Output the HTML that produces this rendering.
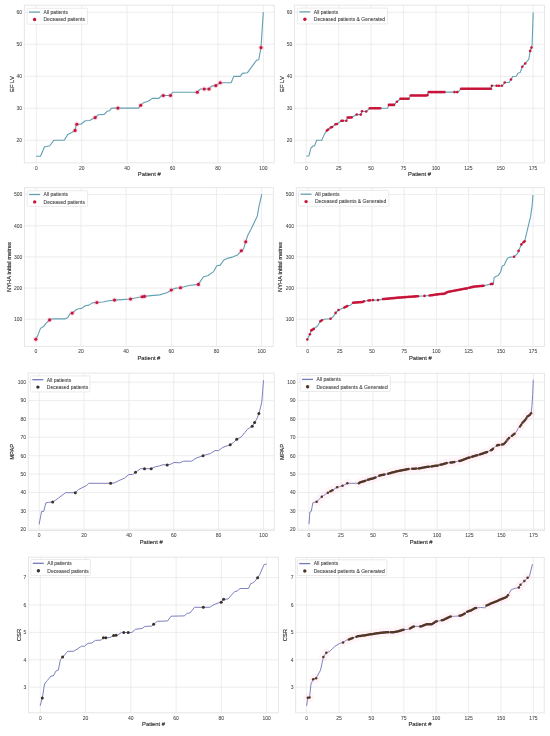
<!DOCTYPE html>
<html><head><meta charset="utf-8"><style>
html,body{margin:0;padding:0;background:#fff;}
body{width:550px;height:736px;overflow:hidden;}
svg{display:block;filter:blur(0.5px);}
text{font-family:"Liberation Sans", sans-serif;fill:#3a3a3a;stroke:#3a3a3a;stroke-width:0.16px;}
.g{stroke:#e8e8e8;stroke-width:0.8;}
.f{fill:none;stroke:#e4e4e4;stroke-width:0.9;}
.tx{font-size:5px;text-anchor:middle;fill:#474747;stroke:#474747;stroke-width:0.06px;}
.ty{font-size:5px;text-anchor:end;fill:#474747;stroke:#474747;stroke-width:0.06px;}
.xl{font-size:5.8px;text-anchor:middle;fill:#2e2e2e;stroke:#2e2e2e;stroke-width:0.14px;}
.yl{font-size:5.8px;text-anchor:middle;fill:#2e2e2e;stroke:#2e2e2e;stroke-width:0.18px;}
.lt{font-size:5px;fill:#444;stroke:#444;stroke-width:0.08px;}
.lg{fill:#fff;fill-opacity:0.85;stroke:#e2e2e2;stroke-width:0.7;}
.halo{fill:#ffc4d6;fill-opacity:0.08;}
</style></head><body>
<svg width="550" height="736" viewBox="0 0 550 736">
<rect width="550" height="736" fill="#fff"/>
<line x1="36.3" y1="5.2" x2="36.3" y2="162.9" class="g"/>
<line x1="81.72" y1="5.2" x2="81.72" y2="162.9" class="g"/>
<line x1="127.14" y1="5.2" x2="127.14" y2="162.9" class="g"/>
<line x1="172.56" y1="5.2" x2="172.56" y2="162.9" class="g"/>
<line x1="217.98" y1="5.2" x2="217.98" y2="162.9" class="g"/>
<line x1="263.4" y1="5.2" x2="263.4" y2="162.9" class="g"/>
<line x1="24.3" y1="140.3" x2="274.3" y2="140.3" class="g"/>
<line x1="24.3" y1="108.3" x2="274.3" y2="108.3" class="g"/>
<line x1="24.3" y1="76.3" x2="274.3" y2="76.3" class="g"/>
<line x1="24.3" y1="44.3" x2="274.3" y2="44.3" class="g"/>
<line x1="24.3" y1="12.3" x2="274.3" y2="12.3" class="g"/>
<rect x="24.3" y="5.2" width="250" height="157.7" class="f"/>
<text x="36.3" y="169.7" class="tx">0</text>
<text x="81.72" y="169.7" class="tx">20</text>
<text x="127.14" y="169.7" class="tx">40</text>
<text x="172.56" y="169.7" class="tx">60</text>
<text x="217.98" y="169.7" class="tx">80</text>
<text x="263.4" y="169.7" class="tx">100</text>
<text x="22.1" y="142.1" class="ty">20</text>
<text x="22.1" y="110.1" class="ty">30</text>
<text x="22.1" y="78.1" class="ty">40</text>
<text x="22.1" y="46.1" class="ty">50</text>
<text x="22.1" y="14.1" class="ty">60</text>
<text x="149.3" y="176" class="xl">Patient #</text>
<text transform="translate(13.5,84.05) rotate(-90)" class="yl">EF LV</text>
<polyline points="36.1,156.2 40.5,156.2 44.5,146.7 49.6,146 54,140.2 64.2,140.2 67.8,134.4 72.2,132.2 75.1,130.4 76.5,124.2 80.9,124.2 85.3,120.8 89.6,120.5 95.2,117.6 98.4,114.7 104.2,114.4 107.3,111.2 109.5,110.7 111.6,108.1 138.5,108.1 140.7,105.2 143.6,102.7 148,101.3 152.4,98.4 158.9,98.4 161.1,95.9 163.3,95.5 170.5,95.5 172.7,92.2 196.9,92.2 200.5,89 209,89 211.5,86.1 215.8,85.6 220.2,82.7 231.1,82.7 232.6,79.3 233.7,76.4 240.2,76.4 242.4,73.4 247.3,72.8 256.5,60.3 258.7,59.8 261,47.6 263.3,12.1" fill="none" stroke="#62a0b2" stroke-width="1.1" stroke-linejoin="round"/>
<g fill="#ff6f9a" opacity="0.22">
<circle cx="75.1" cy="130.4" r="2.7"/>
<circle cx="76.8" cy="124.2" r="2.7"/>
<circle cx="95.2" cy="117.6" r="2.7"/>
<circle cx="117.9" cy="108.1" r="2.7"/>
<circle cx="140.7" cy="105.2" r="2.7"/>
<circle cx="163.3" cy="95.5" r="2.7"/>
<circle cx="170.5" cy="95.5" r="2.7"/>
<circle cx="197.3" cy="92.2" r="2.7"/>
<circle cx="204.2" cy="89" r="2.7"/>
<circle cx="209" cy="89" r="2.7"/>
<circle cx="215.8" cy="85.6" r="2.7"/>
<circle cx="220.2" cy="82.7" r="2.7"/>
<circle cx="261" cy="47.6" r="2.7"/>
</g>
<circle cx="75.1" cy="130.4" r="1.55" fill="#c8143a"/>
<circle cx="76.8" cy="124.2" r="1.55" fill="#c8143a"/>
<circle cx="95.2" cy="117.6" r="1.55" fill="#c8143a"/>
<circle cx="117.9" cy="108.1" r="1.55" fill="#c8143a"/>
<circle cx="140.7" cy="105.2" r="1.55" fill="#c8143a"/>
<circle cx="163.3" cy="95.5" r="1.55" fill="#c8143a"/>
<circle cx="170.5" cy="95.5" r="1.55" fill="#c8143a"/>
<circle cx="197.3" cy="92.2" r="1.55" fill="#c8143a"/>
<circle cx="204.2" cy="89" r="1.55" fill="#c8143a"/>
<circle cx="209" cy="89" r="1.55" fill="#c8143a"/>
<circle cx="215.8" cy="85.6" r="1.55" fill="#c8143a"/>
<circle cx="220.2" cy="82.7" r="1.55" fill="#c8143a"/>
<circle cx="261" cy="47.6" r="1.55" fill="#c8143a"/>
<rect x="27.1" y="8.3" width="60.4" height="15.9" rx="1" class="lg"/>
<line x1="29" y1="12.1" x2="40" y2="12.1" stroke="#62a0b2" stroke-width="1.3"/>
<circle cx="34.6" cy="19.5" r="1.7" fill="#c8143a"/>
<text x="43.5" y="13.9" class="lt">All patients</text>
<text x="43.5" y="21.3" class="lt">Deceased patients</text>
<line x1="306.3" y1="5.2" x2="306.3" y2="162.9" class="g"/>
<line x1="338.7" y1="5.2" x2="338.7" y2="162.9" class="g"/>
<line x1="371.1" y1="5.2" x2="371.1" y2="162.9" class="g"/>
<line x1="403.5" y1="5.2" x2="403.5" y2="162.9" class="g"/>
<line x1="435.9" y1="5.2" x2="435.9" y2="162.9" class="g"/>
<line x1="468.3" y1="5.2" x2="468.3" y2="162.9" class="g"/>
<line x1="500.7" y1="5.2" x2="500.7" y2="162.9" class="g"/>
<line x1="533.1" y1="5.2" x2="533.1" y2="162.9" class="g"/>
<line x1="294.6" y1="140.3" x2="544.5" y2="140.3" class="g"/>
<line x1="294.6" y1="108.3" x2="544.5" y2="108.3" class="g"/>
<line x1="294.6" y1="76.3" x2="544.5" y2="76.3" class="g"/>
<line x1="294.6" y1="44.3" x2="544.5" y2="44.3" class="g"/>
<line x1="294.6" y1="12.3" x2="544.5" y2="12.3" class="g"/>
<rect x="294.6" y="5.2" width="249.9" height="157.7" class="f"/>
<text x="306.3" y="169.7" class="tx">0</text>
<text x="338.7" y="169.7" class="tx">25</text>
<text x="371.1" y="169.7" class="tx">50</text>
<text x="403.5" y="169.7" class="tx">75</text>
<text x="435.9" y="169.7" class="tx">100</text>
<text x="468.3" y="169.7" class="tx">125</text>
<text x="500.7" y="169.7" class="tx">150</text>
<text x="533.1" y="169.7" class="tx">175</text>
<text x="292.4" y="142.1" class="ty">20</text>
<text x="292.4" y="110.1" class="ty">30</text>
<text x="292.4" y="78.1" class="ty">40</text>
<text x="292.4" y="46.1" class="ty">50</text>
<text x="292.4" y="14.1" class="ty">60</text>
<text x="419.55" y="176" class="xl">Patient #</text>
<text transform="translate(283.5,84.05) rotate(-90)" class="yl">EF LV</text>
<polyline points="306.5,156.2 309,155.7 310.9,148.2 313.1,146 314.5,146 316.7,140.2 321.8,140.2 324.7,133.6 326.9,130.5 328,129.7 330.8,127.5 332,127.1 335.6,124.3 337.1,123.9 341.5,120.8 346.3,120.8 347.7,117.6 351.6,117.4 356.7,114.5 360.8,114.6 361.8,111.3 366.2,111.5 369.8,108.3 387.5,108.3 388.9,104.9 394,104.9 396.9,101.7 400.5,98.8 408.5,98.8 410.7,95.5 427.5,95.5 427.9,92.1 458.2,92.1 461.1,88.7 490.9,88.7 491.6,85.8 502.5,85.8 504.7,82.5 509.1,82.5 511.3,79 512.7,76.5 516.3,76.2 517.9,73.3 520.1,72.6 522.3,66.7 525.2,63.5 528.8,59.3 530.2,50.9 531.5,47.6 532.1,45.2 533.2,12.4" fill="none" stroke="#62a0b2" stroke-width="1.1" stroke-linejoin="round"/>
<circle cx="326.9" cy="130.5" r="1.3" fill="#c8143a"/>
<circle cx="328.2" cy="129.54" r="1.3" fill="#c8143a"/>
<circle cx="330.8" cy="127.5" r="1.3" fill="#c8143a"/>
<circle cx="332.1" cy="127.02" r="1.3" fill="#c8143a"/>
<circle cx="335.6" cy="124.3" r="1.3" fill="#c8143a"/>
<circle cx="337" cy="123.93" r="1.3" fill="#c8143a"/>
<circle cx="341.5" cy="120.8" r="1.3" fill="#c8143a"/>
<circle cx="342.9" cy="120.8" r="1.3" fill="#c8143a"/>
<circle cx="346.3" cy="120.8" r="1.3" fill="#c8143a"/>
<circle cx="347.7" cy="117.6" r="1.3" fill="#c8143a"/>
<circle cx="349" cy="117.53" r="1.3" fill="#c8143a"/>
<circle cx="350.3" cy="117.47" r="1.3" fill="#c8143a"/>
<circle cx="351.6" cy="117.4" r="1.3" fill="#c8143a"/>
<circle cx="356.7" cy="114.5" r="1.3" fill="#c8143a"/>
<circle cx="360.8" cy="114.6" r="1.3" fill="#c8143a"/>
<circle cx="362" cy="111.31" r="1.3" fill="#c8143a"/>
<circle cx="366.2" cy="111.5" r="1.3" fill="#c8143a"/>
<circle cx="369.8" cy="108.3" r="1.3" fill="#c8143a"/>
<circle cx="371.1" cy="108.3" r="1.3" fill="#c8143a"/>
<circle cx="372.4" cy="108.3" r="1.3" fill="#c8143a"/>
<circle cx="373.7" cy="108.3" r="1.3" fill="#c8143a"/>
<circle cx="375" cy="108.3" r="1.3" fill="#c8143a"/>
<circle cx="376.3" cy="108.3" r="1.3" fill="#c8143a"/>
<circle cx="377.6" cy="108.3" r="1.3" fill="#c8143a"/>
<circle cx="378.9" cy="108.3" r="1.3" fill="#c8143a"/>
<circle cx="380.2" cy="108.3" r="1.3" fill="#c8143a"/>
<circle cx="388.9" cy="104.9" r="1.3" fill="#c8143a"/>
<circle cx="390.17" cy="104.9" r="1.3" fill="#c8143a"/>
<circle cx="391.45" cy="104.9" r="1.3" fill="#c8143a"/>
<circle cx="392.73" cy="104.9" r="1.3" fill="#c8143a"/>
<circle cx="394" cy="104.9" r="1.3" fill="#c8143a"/>
<circle cx="396.9" cy="101.7" r="1.3" fill="#c8143a"/>
<circle cx="400.5" cy="98.8" r="1.3" fill="#c8143a"/>
<circle cx="401.83" cy="98.8" r="1.3" fill="#c8143a"/>
<circle cx="403.17" cy="98.8" r="1.3" fill="#c8143a"/>
<circle cx="404.5" cy="98.8" r="1.3" fill="#c8143a"/>
<circle cx="405.83" cy="98.8" r="1.3" fill="#c8143a"/>
<circle cx="407.17" cy="98.8" r="1.3" fill="#c8143a"/>
<circle cx="408.5" cy="98.8" r="1.3" fill="#c8143a"/>
<circle cx="410.7" cy="95.5" r="1.3" fill="#c8143a"/>
<circle cx="412" cy="95.5" r="1.3" fill="#c8143a"/>
<circle cx="413.29" cy="95.5" r="1.3" fill="#c8143a"/>
<circle cx="414.59" cy="95.5" r="1.3" fill="#c8143a"/>
<circle cx="415.88" cy="95.5" r="1.3" fill="#c8143a"/>
<circle cx="417.18" cy="95.5" r="1.3" fill="#c8143a"/>
<circle cx="418.48" cy="95.5" r="1.3" fill="#c8143a"/>
<circle cx="419.77" cy="95.5" r="1.3" fill="#c8143a"/>
<circle cx="421.07" cy="95.5" r="1.3" fill="#c8143a"/>
<circle cx="422.37" cy="95.5" r="1.3" fill="#c8143a"/>
<circle cx="423.66" cy="95.5" r="1.3" fill="#c8143a"/>
<circle cx="424.96" cy="95.5" r="1.3" fill="#c8143a"/>
<circle cx="426.25" cy="95.5" r="1.3" fill="#c8143a"/>
<circle cx="427.55" cy="95.08" r="1.3" fill="#c8143a"/>
<circle cx="428.85" cy="92.1" r="1.3" fill="#c8143a"/>
<circle cx="430.14" cy="92.1" r="1.3" fill="#c8143a"/>
<circle cx="431.44" cy="92.1" r="1.3" fill="#c8143a"/>
<circle cx="432.73" cy="92.1" r="1.3" fill="#c8143a"/>
<circle cx="434.03" cy="92.1" r="1.3" fill="#c8143a"/>
<circle cx="435.33" cy="92.1" r="1.3" fill="#c8143a"/>
<circle cx="436.62" cy="92.1" r="1.3" fill="#c8143a"/>
<circle cx="437.92" cy="92.1" r="1.3" fill="#c8143a"/>
<circle cx="439.22" cy="92.1" r="1.3" fill="#c8143a"/>
<circle cx="440.51" cy="92.1" r="1.3" fill="#c8143a"/>
<circle cx="441.81" cy="92.1" r="1.3" fill="#c8143a"/>
<circle cx="443.1" cy="92.1" r="1.3" fill="#c8143a"/>
<circle cx="444.4" cy="92.1" r="1.3" fill="#c8143a"/>
<circle cx="454.5" cy="92.1" r="1.3" fill="#c8143a"/>
<circle cx="457.2" cy="92.1" r="1.3" fill="#c8143a"/>
<circle cx="461.1" cy="88.7" r="1.3" fill="#c8143a"/>
<circle cx="462.4" cy="88.7" r="1.3" fill="#c8143a"/>
<circle cx="463.69" cy="88.7" r="1.3" fill="#c8143a"/>
<circle cx="464.99" cy="88.7" r="1.3" fill="#c8143a"/>
<circle cx="466.28" cy="88.7" r="1.3" fill="#c8143a"/>
<circle cx="467.58" cy="88.7" r="1.3" fill="#c8143a"/>
<circle cx="468.87" cy="88.7" r="1.3" fill="#c8143a"/>
<circle cx="470.17" cy="88.7" r="1.3" fill="#c8143a"/>
<circle cx="471.47" cy="88.7" r="1.3" fill="#c8143a"/>
<circle cx="472.76" cy="88.7" r="1.3" fill="#c8143a"/>
<circle cx="474.06" cy="88.7" r="1.3" fill="#c8143a"/>
<circle cx="475.35" cy="88.7" r="1.3" fill="#c8143a"/>
<circle cx="476.65" cy="88.7" r="1.3" fill="#c8143a"/>
<circle cx="477.94" cy="88.7" r="1.3" fill="#c8143a"/>
<circle cx="479.24" cy="88.7" r="1.3" fill="#c8143a"/>
<circle cx="480.53" cy="88.7" r="1.3" fill="#c8143a"/>
<circle cx="481.83" cy="88.7" r="1.3" fill="#c8143a"/>
<circle cx="483.13" cy="88.7" r="1.3" fill="#c8143a"/>
<circle cx="484.42" cy="88.7" r="1.3" fill="#c8143a"/>
<circle cx="485.72" cy="88.7" r="1.3" fill="#c8143a"/>
<circle cx="487.01" cy="88.7" r="1.3" fill="#c8143a"/>
<circle cx="488.31" cy="88.7" r="1.3" fill="#c8143a"/>
<circle cx="489.6" cy="88.7" r="1.3" fill="#c8143a"/>
<circle cx="490.9" cy="88.7" r="1.3" fill="#c8143a"/>
<circle cx="491.9" cy="85.8" r="1.3" fill="#c8143a"/>
<circle cx="496.7" cy="85.8" r="1.3" fill="#c8143a"/>
<circle cx="498.9" cy="85.8" r="1.3" fill="#c8143a"/>
<circle cx="501.8" cy="85.8" r="1.3" fill="#c8143a"/>
<circle cx="504.7" cy="82.5" r="1.3" fill="#c8143a"/>
<circle cx="511" cy="79.48" r="1.3" fill="#c8143a"/>
<circle cx="522.3" cy="66.7" r="1.3" fill="#c8143a"/>
<circle cx="525.2" cy="63.5" r="1.3" fill="#c8143a"/>
<circle cx="530.2" cy="50.9" r="1.3" fill="#c8143a"/>
<circle cx="531.5" cy="47.6" r="1.3" fill="#c8143a"/>
<rect x="297.4" y="8.1" width="90.2" height="15.8" rx="1" class="lg"/>
<line x1="299.3" y1="11.9" x2="310.3" y2="11.9" stroke="#62a0b2" stroke-width="1.3"/>
<circle cx="304.9" cy="19.3" r="1.7" fill="#c8143a"/>
<text x="313.8" y="13.7" class="lt">All patients</text>
<text x="313.8" y="21.1" class="lt">Deceased patients &amp; Generated</text>
<line x1="35.8" y1="187.7" x2="35.8" y2="346.4" class="g"/>
<line x1="80.96" y1="187.7" x2="80.96" y2="346.4" class="g"/>
<line x1="126.12" y1="187.7" x2="126.12" y2="346.4" class="g"/>
<line x1="171.28" y1="187.7" x2="171.28" y2="346.4" class="g"/>
<line x1="216.44" y1="187.7" x2="216.44" y2="346.4" class="g"/>
<line x1="261.6" y1="187.7" x2="261.6" y2="346.4" class="g"/>
<line x1="24.5" y1="319.2" x2="273.3" y2="319.2" class="g"/>
<line x1="24.5" y1="288.05" x2="273.3" y2="288.05" class="g"/>
<line x1="24.5" y1="256.9" x2="273.3" y2="256.9" class="g"/>
<line x1="24.5" y1="225.75" x2="273.3" y2="225.75" class="g"/>
<line x1="24.5" y1="194.6" x2="273.3" y2="194.6" class="g"/>
<rect x="24.5" y="187.7" width="248.8" height="158.7" class="f"/>
<text x="35.8" y="353.2" class="tx">0</text>
<text x="80.96" y="353.2" class="tx">20</text>
<text x="126.12" y="353.2" class="tx">40</text>
<text x="171.28" y="353.2" class="tx">60</text>
<text x="216.44" y="353.2" class="tx">80</text>
<text x="261.6" y="353.2" class="tx">100</text>
<text x="22.3" y="321" class="ty">100</text>
<text x="22.3" y="289.85" class="ty">200</text>
<text x="22.3" y="258.7" class="ty">300</text>
<text x="22.3" y="227.55" class="ty">400</text>
<text x="22.3" y="196.4" class="ty">500</text>
<text x="148.9" y="359.5" class="xl">Patient #</text>
<text transform="translate(11.1,267.05) rotate(-90)" class="yl">NYHA initial metres</text>
<polyline points="35.8,339.3 38,334.9 40.5,328.4 43.8,326.2 46,323.3 49.6,319.9 51.8,318.9 64.9,318.9 67.8,317.5 70,313.8 72.2,313.1 76.5,309.5 78.7,308.7 81.6,308.4 85.3,305.8 88.9,305.1 92.5,302.9 96.9,302.5 103,302 107.3,301 114.5,300.1 121.8,299.6 130.5,299 137.8,297.5 142.2,296.7 144.4,296.4 150.9,295.6 159.6,294.9 166.9,292.7 171.3,290 175.8,288.1 180.5,287.7 188.9,285.5 198.4,284.4 200.5,281.1 203.5,276.7 207.8,275.7 213.6,271.6 216.8,265.8 220.2,265.1 223.8,260 228.2,258.1 232.5,257.1 237.6,254.9 241.3,250.8 243.5,249.1 245.6,241.8 247.7,235.5 251.4,228.6 257.3,215.9 259.1,205.9 261.8,194.1" fill="none" stroke="#62a0b2" stroke-width="1.1" stroke-linejoin="round"/>
<g fill="#ff6f9a" opacity="0.22">
<circle cx="35.8" cy="339.3" r="2.7"/>
<circle cx="49.6" cy="319.9" r="2.7"/>
<circle cx="72.2" cy="313.1" r="2.7"/>
<circle cx="96.9" cy="302.5" r="2.7"/>
<circle cx="114.5" cy="300.1" r="2.7"/>
<circle cx="130.5" cy="299" r="2.7"/>
<circle cx="142.2" cy="296.7" r="2.7"/>
<circle cx="144.4" cy="296.4" r="2.7"/>
<circle cx="171.3" cy="290" r="2.7"/>
<circle cx="180.5" cy="287.7" r="2.7"/>
<circle cx="198.4" cy="284.4" r="2.7"/>
<circle cx="241.3" cy="250.8" r="2.7"/>
<circle cx="245.7" cy="241.8" r="2.7"/>
</g>
<circle cx="35.8" cy="339.3" r="1.55" fill="#c8143a"/>
<circle cx="49.6" cy="319.9" r="1.55" fill="#c8143a"/>
<circle cx="72.2" cy="313.1" r="1.55" fill="#c8143a"/>
<circle cx="96.9" cy="302.5" r="1.55" fill="#c8143a"/>
<circle cx="114.5" cy="300.1" r="1.55" fill="#c8143a"/>
<circle cx="130.5" cy="299" r="1.55" fill="#c8143a"/>
<circle cx="142.2" cy="296.7" r="1.55" fill="#c8143a"/>
<circle cx="144.4" cy="296.4" r="1.55" fill="#c8143a"/>
<circle cx="171.3" cy="290" r="1.55" fill="#c8143a"/>
<circle cx="180.5" cy="287.7" r="1.55" fill="#c8143a"/>
<circle cx="198.4" cy="284.4" r="1.55" fill="#c8143a"/>
<circle cx="241.3" cy="250.8" r="1.55" fill="#c8143a"/>
<circle cx="245.7" cy="241.8" r="1.55" fill="#c8143a"/>
<rect x="27.2" y="190.7" width="60.4" height="15.7" rx="1" class="lg"/>
<line x1="29.1" y1="194.5" x2="40.1" y2="194.5" stroke="#62a0b2" stroke-width="1.3"/>
<circle cx="34.7" cy="201.9" r="1.7" fill="#c8143a"/>
<text x="43.6" y="196.3" class="lt">All patients</text>
<text x="43.6" y="203.7" class="lt">Deceased patients</text>
<line x1="307.6" y1="187.7" x2="307.6" y2="346.4" class="g"/>
<line x1="339.8" y1="187.7" x2="339.8" y2="346.4" class="g"/>
<line x1="372" y1="187.7" x2="372" y2="346.4" class="g"/>
<line x1="404.2" y1="187.7" x2="404.2" y2="346.4" class="g"/>
<line x1="436.4" y1="187.7" x2="436.4" y2="346.4" class="g"/>
<line x1="468.6" y1="187.7" x2="468.6" y2="346.4" class="g"/>
<line x1="500.8" y1="187.7" x2="500.8" y2="346.4" class="g"/>
<line x1="533" y1="187.7" x2="533" y2="346.4" class="g"/>
<line x1="296.3" y1="319.2" x2="544.4" y2="319.2" class="g"/>
<line x1="296.3" y1="288.05" x2="544.4" y2="288.05" class="g"/>
<line x1="296.3" y1="256.9" x2="544.4" y2="256.9" class="g"/>
<line x1="296.3" y1="225.75" x2="544.4" y2="225.75" class="g"/>
<line x1="296.3" y1="194.6" x2="544.4" y2="194.6" class="g"/>
<rect x="296.3" y="187.7" width="248.1" height="158.7" class="f"/>
<text x="307.6" y="353.2" class="tx">0</text>
<text x="339.8" y="353.2" class="tx">25</text>
<text x="372" y="353.2" class="tx">50</text>
<text x="404.2" y="353.2" class="tx">75</text>
<text x="436.4" y="353.2" class="tx">100</text>
<text x="468.6" y="353.2" class="tx">125</text>
<text x="500.8" y="353.2" class="tx">150</text>
<text x="533" y="353.2" class="tx">175</text>
<text x="294.1" y="321" class="ty">100</text>
<text x="294.1" y="289.85" class="ty">200</text>
<text x="294.1" y="258.7" class="ty">300</text>
<text x="294.1" y="227.55" class="ty">400</text>
<text x="294.1" y="196.4" class="ty">500</text>
<text x="420.35" y="359.5" class="xl">Patient #</text>
<text transform="translate(282.2,267.05) rotate(-90)" class="yl">NYHA initial metres</text>
<polyline points="307.3,339.5 309.9,334.3 311.3,330.4 313.8,328.9 317.5,326 320.4,321.2 321.8,320.2 324,319.2 330.5,318.7 333.5,316.5 335.6,312.9 338.5,310 342.2,308.5 344.4,307.5 347.3,306.1 350.9,304.9 353.1,302.7 358.2,302.3 362.5,302 364,301.3 368.4,300.5 372.7,300.1 378,300.1 383.1,299.1 399.1,297.6 418,296.2 424.5,295.9 429.6,295.5 440,294 444.4,293.8 447.3,292.1 454.5,290.6 461.8,289.2 466.9,288.4 469.1,287.7 474.9,286.5 483.6,285.8 490.9,284.1 492.4,283.9 493.4,283.6 494.1,277.8 495.9,276.4 498.1,275.6 500.6,272 502.1,266.2 504.3,265.1 505.7,261.8 507.5,258.2 510.1,257.1 514.1,256.7 517,254.2 518.6,250.9 520.6,246.2 521.4,244.4 523.5,242.2 524.5,241.6 525.4,238.2 530.6,216.4 532.1,205.9 533,195" fill="none" stroke="#62a0b2" stroke-width="1.1" stroke-linejoin="round"/>
<circle cx="307.3" cy="339.5" r="1.3" fill="#c8143a"/>
<circle cx="309.9" cy="334.3" r="1.3" fill="#c8143a"/>
<circle cx="311.3" cy="330.4" r="1.3" fill="#c8143a"/>
<circle cx="312.6" cy="329.62" r="1.3" fill="#c8143a"/>
<circle cx="313.8" cy="328.9" r="1.3" fill="#c8143a"/>
<circle cx="320.4" cy="321.2" r="1.3" fill="#c8143a"/>
<circle cx="321.8" cy="320.2" r="1.3" fill="#c8143a"/>
<circle cx="330.5" cy="318.7" r="1.3" fill="#c8143a"/>
<circle cx="335.6" cy="312.9" r="1.3" fill="#c8143a"/>
<circle cx="338.5" cy="310" r="1.3" fill="#c8143a"/>
<circle cx="344.4" cy="307.5" r="1.3" fill="#c8143a"/>
<circle cx="345.7" cy="306.87" r="1.3" fill="#c8143a"/>
<circle cx="347.3" cy="306.1" r="1.3" fill="#c8143a"/>
<circle cx="353.1" cy="302.7" r="1.3" fill="#c8143a"/>
<circle cx="354.46" cy="302.59" r="1.3" fill="#c8143a"/>
<circle cx="355.83" cy="302.49" r="1.3" fill="#c8143a"/>
<circle cx="357.19" cy="302.38" r="1.3" fill="#c8143a"/>
<circle cx="358.55" cy="302.28" r="1.3" fill="#c8143a"/>
<circle cx="359.91" cy="302.18" r="1.3" fill="#c8143a"/>
<circle cx="361.27" cy="302.09" r="1.3" fill="#c8143a"/>
<circle cx="362.64" cy="301.94" r="1.3" fill="#c8143a"/>
<circle cx="364" cy="301.3" r="1.3" fill="#c8143a"/>
<circle cx="368.4" cy="300.5" r="1.3" fill="#c8143a"/>
<circle cx="370" cy="300.35" r="1.3" fill="#c8143a"/>
<circle cx="372.9" cy="300.1" r="1.3" fill="#c8143a"/>
<circle cx="378" cy="300.1" r="1.3" fill="#c8143a"/>
<circle cx="383.1" cy="299.1" r="1.3" fill="#c8143a"/>
<circle cx="384.39" cy="298.98" r="1.3" fill="#c8143a"/>
<circle cx="385.69" cy="298.86" r="1.3" fill="#c8143a"/>
<circle cx="386.98" cy="298.74" r="1.3" fill="#c8143a"/>
<circle cx="388.27" cy="298.62" r="1.3" fill="#c8143a"/>
<circle cx="389.56" cy="298.49" r="1.3" fill="#c8143a"/>
<circle cx="390.86" cy="298.37" r="1.3" fill="#c8143a"/>
<circle cx="392.15" cy="298.25" r="1.3" fill="#c8143a"/>
<circle cx="393.44" cy="298.13" r="1.3" fill="#c8143a"/>
<circle cx="394.73" cy="298.01" r="1.3" fill="#c8143a"/>
<circle cx="396.03" cy="297.89" r="1.3" fill="#c8143a"/>
<circle cx="397.32" cy="297.77" r="1.3" fill="#c8143a"/>
<circle cx="398.61" cy="297.65" r="1.3" fill="#c8143a"/>
<circle cx="399.9" cy="297.54" r="1.3" fill="#c8143a"/>
<circle cx="401.2" cy="297.44" r="1.3" fill="#c8143a"/>
<circle cx="402.49" cy="297.35" r="1.3" fill="#c8143a"/>
<circle cx="403.78" cy="297.25" r="1.3" fill="#c8143a"/>
<circle cx="405.07" cy="297.16" r="1.3" fill="#c8143a"/>
<circle cx="406.37" cy="297.06" r="1.3" fill="#c8143a"/>
<circle cx="407.66" cy="296.97" r="1.3" fill="#c8143a"/>
<circle cx="408.95" cy="296.87" r="1.3" fill="#c8143a"/>
<circle cx="410.24" cy="296.77" r="1.3" fill="#c8143a"/>
<circle cx="411.54" cy="296.68" r="1.3" fill="#c8143a"/>
<circle cx="412.83" cy="296.58" r="1.3" fill="#c8143a"/>
<circle cx="414.12" cy="296.49" r="1.3" fill="#c8143a"/>
<circle cx="415.41" cy="296.39" r="1.3" fill="#c8143a"/>
<circle cx="416.71" cy="296.3" r="1.3" fill="#c8143a"/>
<circle cx="418" cy="296.2" r="1.3" fill="#c8143a"/>
<circle cx="424.5" cy="295.9" r="1.3" fill="#c8143a"/>
<circle cx="429.6" cy="295.5" r="1.3" fill="#c8143a"/>
<circle cx="430.89" cy="295.31" r="1.3" fill="#c8143a"/>
<circle cx="432.17" cy="295.13" r="1.3" fill="#c8143a"/>
<circle cx="433.46" cy="294.94" r="1.3" fill="#c8143a"/>
<circle cx="434.74" cy="294.76" r="1.3" fill="#c8143a"/>
<circle cx="436.03" cy="294.57" r="1.3" fill="#c8143a"/>
<circle cx="437.32" cy="294.39" r="1.3" fill="#c8143a"/>
<circle cx="438.6" cy="294.2" r="1.3" fill="#c8143a"/>
<circle cx="439.89" cy="294.02" r="1.3" fill="#c8143a"/>
<circle cx="441.18" cy="293.95" r="1.3" fill="#c8143a"/>
<circle cx="442.46" cy="293.89" r="1.3" fill="#c8143a"/>
<circle cx="443.75" cy="293.83" r="1.3" fill="#c8143a"/>
<circle cx="445.03" cy="293.43" r="1.3" fill="#c8143a"/>
<circle cx="446.32" cy="292.67" r="1.3" fill="#c8143a"/>
<circle cx="447.61" cy="292.04" r="1.3" fill="#c8143a"/>
<circle cx="448.89" cy="291.77" r="1.3" fill="#c8143a"/>
<circle cx="450.18" cy="291.5" r="1.3" fill="#c8143a"/>
<circle cx="451.47" cy="291.23" r="1.3" fill="#c8143a"/>
<circle cx="452.75" cy="290.96" r="1.3" fill="#c8143a"/>
<circle cx="454.04" cy="290.7" r="1.3" fill="#c8143a"/>
<circle cx="455.32" cy="290.44" r="1.3" fill="#c8143a"/>
<circle cx="456.61" cy="290.2" r="1.3" fill="#c8143a"/>
<circle cx="457.9" cy="289.95" r="1.3" fill="#c8143a"/>
<circle cx="459.18" cy="289.7" r="1.3" fill="#c8143a"/>
<circle cx="460.47" cy="289.46" r="1.3" fill="#c8143a"/>
<circle cx="461.76" cy="289.21" r="1.3" fill="#c8143a"/>
<circle cx="463.04" cy="289.01" r="1.3" fill="#c8143a"/>
<circle cx="464.33" cy="288.8" r="1.3" fill="#c8143a"/>
<circle cx="465.61" cy="288.6" r="1.3" fill="#c8143a"/>
<circle cx="466.9" cy="288.4" r="1.3" fill="#c8143a"/>
<circle cx="469.1" cy="287.7" r="1.3" fill="#c8143a"/>
<circle cx="470.42" cy="287.43" r="1.3" fill="#c8143a"/>
<circle cx="471.74" cy="287.15" r="1.3" fill="#c8143a"/>
<circle cx="473.05" cy="286.88" r="1.3" fill="#c8143a"/>
<circle cx="474.37" cy="286.61" r="1.3" fill="#c8143a"/>
<circle cx="475.69" cy="286.44" r="1.3" fill="#c8143a"/>
<circle cx="477.01" cy="286.33" r="1.3" fill="#c8143a"/>
<circle cx="478.33" cy="286.22" r="1.3" fill="#c8143a"/>
<circle cx="479.65" cy="286.12" r="1.3" fill="#c8143a"/>
<circle cx="480.96" cy="286.01" r="1.3" fill="#c8143a"/>
<circle cx="482.28" cy="285.91" r="1.3" fill="#c8143a"/>
<circle cx="483.6" cy="285.8" r="1.3" fill="#c8143a"/>
<circle cx="490.9" cy="284.1" r="1.3" fill="#c8143a"/>
<circle cx="492.4" cy="283.9" r="1.3" fill="#c8143a"/>
<circle cx="514.1" cy="256.7" r="1.3" fill="#c8143a"/>
<circle cx="518.6" cy="250.9" r="1.3" fill="#c8143a"/>
<circle cx="521.4" cy="244.4" r="1.3" fill="#c8143a"/>
<circle cx="523.5" cy="242.2" r="1.3" fill="#c8143a"/>
<circle cx="524.6" cy="241.22" r="1.3" fill="#c8143a"/>
<rect x="298.6" y="190.4" width="90.2" height="15.8" rx="1" class="lg"/>
<line x1="300.5" y1="194.2" x2="311.5" y2="194.2" stroke="#62a0b2" stroke-width="1.3"/>
<circle cx="306.1" cy="201.6" r="1.7" fill="#c8143a"/>
<text x="315" y="196" class="lt">All patients</text>
<text x="315" y="203.4" class="lt">Deceased patients &amp; Generated</text>
<line x1="39.2" y1="373.1" x2="39.2" y2="530.5" class="g"/>
<line x1="84.06" y1="373.1" x2="84.06" y2="530.5" class="g"/>
<line x1="128.92" y1="373.1" x2="128.92" y2="530.5" class="g"/>
<line x1="173.78" y1="373.1" x2="173.78" y2="530.5" class="g"/>
<line x1="218.64" y1="373.1" x2="218.64" y2="530.5" class="g"/>
<line x1="263.5" y1="373.1" x2="263.5" y2="530.5" class="g"/>
<line x1="28.2" y1="529.2" x2="274.2" y2="529.2" class="g"/>
<line x1="28.2" y1="510.83" x2="274.2" y2="510.83" class="g"/>
<line x1="28.2" y1="492.45" x2="274.2" y2="492.45" class="g"/>
<line x1="28.2" y1="474.08" x2="274.2" y2="474.08" class="g"/>
<line x1="28.2" y1="455.7" x2="274.2" y2="455.7" class="g"/>
<line x1="28.2" y1="437.32" x2="274.2" y2="437.32" class="g"/>
<line x1="28.2" y1="418.95" x2="274.2" y2="418.95" class="g"/>
<line x1="28.2" y1="400.57" x2="274.2" y2="400.57" class="g"/>
<line x1="28.2" y1="382.2" x2="274.2" y2="382.2" class="g"/>
<rect x="28.2" y="373.1" width="246" height="157.4" class="f"/>
<text x="39.2" y="537.3" class="tx">0</text>
<text x="84.06" y="537.3" class="tx">20</text>
<text x="128.92" y="537.3" class="tx">40</text>
<text x="173.78" y="537.3" class="tx">60</text>
<text x="218.64" y="537.3" class="tx">80</text>
<text x="263.5" y="537.3" class="tx">100</text>
<text x="26" y="531" class="ty">20</text>
<text x="26" y="512.62" class="ty">30</text>
<text x="26" y="494.25" class="ty">40</text>
<text x="26" y="475.88" class="ty">50</text>
<text x="26" y="457.5" class="ty">60</text>
<text x="26" y="439.12" class="ty">70</text>
<text x="26" y="420.75" class="ty">80</text>
<text x="26" y="402.38" class="ty">90</text>
<text x="26" y="384" class="ty">100</text>
<text x="151.2" y="543.6" class="xl">Patient #</text>
<text transform="translate(14.1,451.8) rotate(-90)" class="yl">MPAP</text>
<polyline points="39.1,524.4 40.8,515.6 41.5,511.6 43.7,511.3 45.9,502.8 48.1,502.3 52.7,502.1 58.3,498.2 65.5,492.7 75.3,492.7 78.6,489.5 83,487.3 86.6,485.5 88.8,483.3 110.7,483.3 114.4,482.9 118.7,480.7 124.5,478.1 128.9,474.5 132.5,474.5 135.5,472.3 140.5,468.7 151.2,468.7 155.1,466.9 159.5,465.9 163.1,464.7 167.2,465 171.1,464 174,462.5 179.8,462.8 183.5,461.2 191.6,461.2 196,458.2 203,455.7 206.9,454.5 210.5,453.5 214.9,450.6 218.5,450.6 222.9,447.3 227.3,445.8 230.2,444.8 233.8,442.2 236.7,439.3 241.1,437.1 244.7,432.7 247.2,429.5 249.7,427.8 252.3,426.2 254.6,422.5 257,418.5 258.9,413.6 260.7,406.7 261.9,401 262.7,390.4 263.5,380.2" fill="none" stroke="#7479ba" stroke-width="0.95" stroke-linejoin="round"/>
<circle cx="52.7" cy="502.1" r="1.5" fill="#3b3129"/>
<circle cx="75.3" cy="492.7" r="1.5" fill="#3b3129"/>
<circle cx="110.6" cy="483.3" r="1.5" fill="#3b3129"/>
<circle cx="135.5" cy="472.3" r="1.5" fill="#3b3129"/>
<circle cx="144.5" cy="468.7" r="1.5" fill="#3b3129"/>
<circle cx="151.2" cy="468.7" r="1.5" fill="#3b3129"/>
<circle cx="167.2" cy="465" r="1.5" fill="#3b3129"/>
<circle cx="203" cy="455.7" r="1.5" fill="#3b3129"/>
<circle cx="230.2" cy="444.8" r="1.5" fill="#3b3129"/>
<circle cx="236.7" cy="439.3" r="1.5" fill="#3b3129"/>
<circle cx="252.2" cy="426.2" r="1.5" fill="#3b3129"/>
<circle cx="254.6" cy="422.5" r="1.5" fill="#3b3129"/>
<circle cx="258.9" cy="413.6" r="1.5" fill="#3b3129"/>
<rect x="30.4" y="375.9" width="59.6" height="16" rx="1" class="lg"/>
<line x1="32.3" y1="379.7" x2="43.3" y2="379.7" stroke="#7479ba" stroke-width="1.3"/>
<circle cx="37.9" cy="387.1" r="1.7" fill="#3b3129"/>
<text x="46.8" y="381.5" class="lt">All patients</text>
<text x="46.8" y="388.9" class="lt">Deceased patients</text>
<line x1="308.8" y1="373.3" x2="308.8" y2="530.5" class="g"/>
<line x1="340.9" y1="373.3" x2="340.9" y2="530.5" class="g"/>
<line x1="373" y1="373.3" x2="373" y2="530.5" class="g"/>
<line x1="405.1" y1="373.3" x2="405.1" y2="530.5" class="g"/>
<line x1="437.2" y1="373.3" x2="437.2" y2="530.5" class="g"/>
<line x1="469.3" y1="373.3" x2="469.3" y2="530.5" class="g"/>
<line x1="501.4" y1="373.3" x2="501.4" y2="530.5" class="g"/>
<line x1="533.5" y1="373.3" x2="533.5" y2="530.5" class="g"/>
<line x1="297.8" y1="529.2" x2="544.5" y2="529.2" class="g"/>
<line x1="297.8" y1="510.83" x2="544.5" y2="510.83" class="g"/>
<line x1="297.8" y1="492.45" x2="544.5" y2="492.45" class="g"/>
<line x1="297.8" y1="474.08" x2="544.5" y2="474.08" class="g"/>
<line x1="297.8" y1="455.7" x2="544.5" y2="455.7" class="g"/>
<line x1="297.8" y1="437.32" x2="544.5" y2="437.32" class="g"/>
<line x1="297.8" y1="418.95" x2="544.5" y2="418.95" class="g"/>
<line x1="297.8" y1="400.57" x2="544.5" y2="400.57" class="g"/>
<line x1="297.8" y1="382.2" x2="544.5" y2="382.2" class="g"/>
<rect x="297.8" y="373.3" width="246.7" height="157.2" class="f"/>
<text x="308.8" y="537.3" class="tx">0</text>
<text x="340.9" y="537.3" class="tx">25</text>
<text x="373" y="537.3" class="tx">50</text>
<text x="405.1" y="537.3" class="tx">75</text>
<text x="437.2" y="537.3" class="tx">100</text>
<text x="469.3" y="537.3" class="tx">125</text>
<text x="501.4" y="537.3" class="tx">150</text>
<text x="533.5" y="537.3" class="tx">175</text>
<text x="295.6" y="531" class="ty">20</text>
<text x="295.6" y="512.62" class="ty">30</text>
<text x="295.6" y="494.25" class="ty">40</text>
<text x="295.6" y="475.88" class="ty">50</text>
<text x="295.6" y="457.5" class="ty">60</text>
<text x="295.6" y="439.12" class="ty">70</text>
<text x="295.6" y="420.75" class="ty">80</text>
<text x="295.6" y="402.38" class="ty">90</text>
<text x="295.6" y="384" class="ty">100</text>
<text x="421.15" y="543.6" class="xl">Patient #</text>
<text transform="translate(284.2,451.9) rotate(-90)" class="yl">MPAP</text>
<polyline points="309,524.1 309.9,512 311.3,511.3 312.8,502.8 316.7,501.8 321.8,496.7 327.9,492.7 332.3,490.2 337.1,487.3 342.5,485.8 347.3,483.3 358.9,483.3 359.6,482.5 364.7,481 368.4,479.6 374.2,478.1 380.8,475.2 388.1,473.7 396.8,471.3 408.5,469.1 413.5,468.8 418.6,468.4 426.6,466.9 433.2,466.2 437.5,465.5 443.4,464 447,463 452.9,462.3 457.3,461.3 461.6,460.5 468.9,457.6 476.2,455.5 482,453.7 486.4,452.3 492.2,449.6 495.1,446.7 498,445 503.1,444.5 505.3,442.7 508.2,438.7 513.3,434.8 516.2,432.2 518.4,427.8 520.5,426.2 522.1,423 525.8,419.3 527,416.8 529.4,415.2 531.1,413.2 531.9,406.7 532.7,394.4 533.3,379.8" fill="none" stroke="#7479ba" stroke-width="0.95" stroke-linejoin="round"/>
<g fill="#ffbfd2" opacity="0.16">
<circle cx="316.7" cy="501.8" r="4.5"/>
<circle cx="321.8" cy="496.7" r="4.5"/>
<circle cx="327.9" cy="492.7" r="4.5"/>
<circle cx="330.5" cy="491.22" r="4.5"/>
<circle cx="332.3" cy="490.2" r="4.5"/>
<circle cx="337.1" cy="487.3" r="4.5"/>
<circle cx="342.5" cy="485.8" r="4.5"/>
<circle cx="347.3" cy="483.3" r="4.5"/>
<circle cx="358.9" cy="483.3" r="4.5"/>
<circle cx="360.18" cy="482.33" r="4.5"/>
<circle cx="361.46" cy="481.95" r="4.5"/>
<circle cx="362.74" cy="481.58" r="4.5"/>
<circle cx="364.02" cy="481.2" r="4.5"/>
<circle cx="365.3" cy="480.77" r="4.5"/>
<circle cx="367.8" cy="479.83" r="4.5"/>
<circle cx="369.07" cy="479.43" r="4.5"/>
<circle cx="370.33" cy="479.1" r="4.5"/>
<circle cx="371.6" cy="478.77" r="4.5"/>
<circle cx="372.87" cy="478.44" r="4.5"/>
<circle cx="374.13" cy="478.12" r="4.5"/>
<circle cx="375.4" cy="477.57" r="4.5"/>
<circle cx="379.3" cy="475.86" r="4.5"/>
<circle cx="380.57" cy="475.3" r="4.5"/>
<circle cx="381.85" cy="474.98" r="4.5"/>
<circle cx="383.12" cy="474.72" r="4.5"/>
<circle cx="384.4" cy="474.46" r="4.5"/>
<circle cx="388.2" cy="473.67" r="4.5"/>
<circle cx="389.47" cy="473.32" r="4.5"/>
<circle cx="390.74" cy="472.97" r="4.5"/>
<circle cx="392.01" cy="472.62" r="4.5"/>
<circle cx="393.28" cy="472.27" r="4.5"/>
<circle cx="394.55" cy="471.92" r="4.5"/>
<circle cx="395.82" cy="471.57" r="4.5"/>
<circle cx="397.09" cy="471.25" r="4.5"/>
<circle cx="398.36" cy="471.01" r="4.5"/>
<circle cx="399.63" cy="470.77" r="4.5"/>
<circle cx="400.9" cy="470.53" r="4.5"/>
<circle cx="402.2" cy="470.28" r="4.5"/>
<circle cx="403.46" cy="470.05" r="4.5"/>
<circle cx="404.72" cy="469.81" r="4.5"/>
<circle cx="405.98" cy="469.57" r="4.5"/>
<circle cx="407.24" cy="469.34" r="4.5"/>
<circle cx="408.5" cy="469.1" r="4.5"/>
<circle cx="412.3" cy="468.87" r="4.5"/>
<circle cx="413.6" cy="468.79" r="4.5"/>
<circle cx="414.9" cy="468.69" r="4.5"/>
<circle cx="416.2" cy="468.59" r="4.5"/>
<circle cx="418.7" cy="468.38" r="4.5"/>
<circle cx="419.97" cy="468.14" r="4.5"/>
<circle cx="421.25" cy="467.9" r="4.5"/>
<circle cx="422.52" cy="467.66" r="4.5"/>
<circle cx="423.8" cy="467.43" r="4.5"/>
<circle cx="425.07" cy="467.19" r="4.5"/>
<circle cx="426.35" cy="466.95" r="4.5"/>
<circle cx="427.62" cy="466.79" r="4.5"/>
<circle cx="428.9" cy="466.66" r="4.5"/>
<circle cx="431.4" cy="466.39" r="4.5"/>
<circle cx="432.68" cy="466.26" r="4.5"/>
<circle cx="433.96" cy="466.08" r="4.5"/>
<circle cx="435.24" cy="465.87" r="4.5"/>
<circle cx="436.52" cy="465.66" r="4.5"/>
<circle cx="437.8" cy="465.42" r="4.5"/>
<circle cx="440.3" cy="464.79" r="4.5"/>
<circle cx="441.58" cy="464.46" r="4.5"/>
<circle cx="442.86" cy="464.14" r="4.5"/>
<circle cx="444.14" cy="463.79" r="4.5"/>
<circle cx="445.42" cy="463.44" r="4.5"/>
<circle cx="446.7" cy="463.08" r="4.5"/>
<circle cx="450.5" cy="462.58" r="4.5"/>
<circle cx="451.77" cy="462.43" r="4.5"/>
<circle cx="453.03" cy="462.27" r="4.5"/>
<circle cx="454.3" cy="461.98" r="4.5"/>
<circle cx="459.4" cy="460.91" r="4.5"/>
<circle cx="460.67" cy="460.67" r="4.5"/>
<circle cx="461.95" cy="460.36" r="4.5"/>
<circle cx="463.23" cy="459.85" r="4.5"/>
<circle cx="464.5" cy="459.35" r="4.5"/>
<circle cx="465.77" cy="458.84" r="4.5"/>
<circle cx="467.05" cy="458.33" r="4.5"/>
<circle cx="468.33" cy="457.83" r="4.5"/>
<circle cx="469.6" cy="457.4" r="4.5"/>
<circle cx="472.1" cy="456.68" r="4.5"/>
<circle cx="473.38" cy="456.31" r="4.5"/>
<circle cx="474.65" cy="455.95" r="4.5"/>
<circle cx="475.93" cy="455.58" r="4.5"/>
<circle cx="477.2" cy="455.19" r="4.5"/>
<circle cx="479.8" cy="454.38" r="4.5"/>
<circle cx="481" cy="454.01" r="4.5"/>
<circle cx="482.2" cy="453.64" r="4.5"/>
<circle cx="483.4" cy="453.25" r="4.5"/>
<circle cx="484.6" cy="452.87" r="4.5"/>
<circle cx="485.8" cy="452.49" r="4.5"/>
<circle cx="487" cy="452.02" r="4.5"/>
<circle cx="491" cy="450.16" r="4.5"/>
<circle cx="492" cy="449.69" r="4.5"/>
<circle cx="493" cy="448.8" r="4.5"/>
<circle cx="497" cy="445.59" r="4.5"/>
<circle cx="498" cy="445" r="4.5"/>
<circle cx="499" cy="444.9" r="4.5"/>
<circle cx="502" cy="444.61" r="4.5"/>
<circle cx="503.4" cy="444.25" r="4.5"/>
<circle cx="504.8" cy="443.11" r="4.5"/>
<circle cx="506.2" cy="441.46" r="4.5"/>
<circle cx="507.6" cy="439.53" r="4.5"/>
<circle cx="509" cy="438.09" r="4.5"/>
<circle cx="512" cy="435.79" r="4.5"/>
<circle cx="513.25" cy="434.84" r="4.5"/>
<circle cx="514.5" cy="433.72" r="4.5"/>
<circle cx="520" cy="426.58" r="4.5"/>
<circle cx="521.23" cy="424.73" r="4.5"/>
<circle cx="522.47" cy="422.63" r="4.5"/>
<circle cx="523.7" cy="421.4" r="4.5"/>
<circle cx="524.93" cy="420.17" r="4.5"/>
<circle cx="526.17" cy="418.54" r="4.5"/>
<circle cx="527.4" cy="416.53" r="4.5"/>
<circle cx="528.63" cy="415.71" r="4.5"/>
<circle cx="529.87" cy="414.65" r="4.5"/>
<circle cx="531.1" cy="413.2" r="4.5"/>
</g>
<circle cx="316.7" cy="501.8" r="1.25" fill="#533526"/>
<circle cx="321.8" cy="496.7" r="1.25" fill="#533526"/>
<circle cx="327.9" cy="492.7" r="1.25" fill="#533526"/>
<circle cx="330.5" cy="491.22" r="1.25" fill="#533526"/>
<circle cx="332.3" cy="490.2" r="1.25" fill="#533526"/>
<circle cx="337.1" cy="487.3" r="1.25" fill="#533526"/>
<circle cx="342.5" cy="485.8" r="1.25" fill="#533526"/>
<circle cx="347.3" cy="483.3" r="1.25" fill="#533526"/>
<circle cx="358.9" cy="483.3" r="1.25" fill="#533526"/>
<circle cx="360.18" cy="482.33" r="1.25" fill="#533526"/>
<circle cx="361.46" cy="481.95" r="1.25" fill="#533526"/>
<circle cx="362.74" cy="481.58" r="1.25" fill="#533526"/>
<circle cx="364.02" cy="481.2" r="1.25" fill="#533526"/>
<circle cx="365.3" cy="480.77" r="1.25" fill="#533526"/>
<circle cx="367.8" cy="479.83" r="1.25" fill="#533526"/>
<circle cx="369.07" cy="479.43" r="1.25" fill="#533526"/>
<circle cx="370.33" cy="479.1" r="1.25" fill="#533526"/>
<circle cx="371.6" cy="478.77" r="1.25" fill="#533526"/>
<circle cx="372.87" cy="478.44" r="1.25" fill="#533526"/>
<circle cx="374.13" cy="478.12" r="1.25" fill="#533526"/>
<circle cx="375.4" cy="477.57" r="1.25" fill="#533526"/>
<circle cx="379.3" cy="475.86" r="1.25" fill="#533526"/>
<circle cx="380.57" cy="475.3" r="1.25" fill="#533526"/>
<circle cx="381.85" cy="474.98" r="1.25" fill="#533526"/>
<circle cx="383.12" cy="474.72" r="1.25" fill="#533526"/>
<circle cx="384.4" cy="474.46" r="1.25" fill="#533526"/>
<circle cx="388.2" cy="473.67" r="1.25" fill="#533526"/>
<circle cx="389.47" cy="473.32" r="1.25" fill="#533526"/>
<circle cx="390.74" cy="472.97" r="1.25" fill="#533526"/>
<circle cx="392.01" cy="472.62" r="1.25" fill="#533526"/>
<circle cx="393.28" cy="472.27" r="1.25" fill="#533526"/>
<circle cx="394.55" cy="471.92" r="1.25" fill="#533526"/>
<circle cx="395.82" cy="471.57" r="1.25" fill="#533526"/>
<circle cx="397.09" cy="471.25" r="1.25" fill="#533526"/>
<circle cx="398.36" cy="471.01" r="1.25" fill="#533526"/>
<circle cx="399.63" cy="470.77" r="1.25" fill="#533526"/>
<circle cx="400.9" cy="470.53" r="1.25" fill="#533526"/>
<circle cx="402.2" cy="470.28" r="1.25" fill="#533526"/>
<circle cx="403.46" cy="470.05" r="1.25" fill="#533526"/>
<circle cx="404.72" cy="469.81" r="1.25" fill="#533526"/>
<circle cx="405.98" cy="469.57" r="1.25" fill="#533526"/>
<circle cx="407.24" cy="469.34" r="1.25" fill="#533526"/>
<circle cx="408.5" cy="469.1" r="1.25" fill="#533526"/>
<circle cx="412.3" cy="468.87" r="1.25" fill="#533526"/>
<circle cx="413.6" cy="468.79" r="1.25" fill="#533526"/>
<circle cx="414.9" cy="468.69" r="1.25" fill="#533526"/>
<circle cx="416.2" cy="468.59" r="1.25" fill="#533526"/>
<circle cx="418.7" cy="468.38" r="1.25" fill="#533526"/>
<circle cx="419.97" cy="468.14" r="1.25" fill="#533526"/>
<circle cx="421.25" cy="467.9" r="1.25" fill="#533526"/>
<circle cx="422.52" cy="467.66" r="1.25" fill="#533526"/>
<circle cx="423.8" cy="467.43" r="1.25" fill="#533526"/>
<circle cx="425.07" cy="467.19" r="1.25" fill="#533526"/>
<circle cx="426.35" cy="466.95" r="1.25" fill="#533526"/>
<circle cx="427.62" cy="466.79" r="1.25" fill="#533526"/>
<circle cx="428.9" cy="466.66" r="1.25" fill="#533526"/>
<circle cx="431.4" cy="466.39" r="1.25" fill="#533526"/>
<circle cx="432.68" cy="466.26" r="1.25" fill="#533526"/>
<circle cx="433.96" cy="466.08" r="1.25" fill="#533526"/>
<circle cx="435.24" cy="465.87" r="1.25" fill="#533526"/>
<circle cx="436.52" cy="465.66" r="1.25" fill="#533526"/>
<circle cx="437.8" cy="465.42" r="1.25" fill="#533526"/>
<circle cx="440.3" cy="464.79" r="1.25" fill="#533526"/>
<circle cx="441.58" cy="464.46" r="1.25" fill="#533526"/>
<circle cx="442.86" cy="464.14" r="1.25" fill="#533526"/>
<circle cx="444.14" cy="463.79" r="1.25" fill="#533526"/>
<circle cx="445.42" cy="463.44" r="1.25" fill="#533526"/>
<circle cx="446.7" cy="463.08" r="1.25" fill="#533526"/>
<circle cx="450.5" cy="462.58" r="1.25" fill="#533526"/>
<circle cx="451.77" cy="462.43" r="1.25" fill="#533526"/>
<circle cx="453.03" cy="462.27" r="1.25" fill="#533526"/>
<circle cx="454.3" cy="461.98" r="1.25" fill="#533526"/>
<circle cx="459.4" cy="460.91" r="1.25" fill="#533526"/>
<circle cx="460.67" cy="460.67" r="1.25" fill="#533526"/>
<circle cx="461.95" cy="460.36" r="1.25" fill="#533526"/>
<circle cx="463.23" cy="459.85" r="1.25" fill="#533526"/>
<circle cx="464.5" cy="459.35" r="1.25" fill="#533526"/>
<circle cx="465.77" cy="458.84" r="1.25" fill="#533526"/>
<circle cx="467.05" cy="458.33" r="1.25" fill="#533526"/>
<circle cx="468.33" cy="457.83" r="1.25" fill="#533526"/>
<circle cx="469.6" cy="457.4" r="1.25" fill="#533526"/>
<circle cx="472.1" cy="456.68" r="1.25" fill="#533526"/>
<circle cx="473.38" cy="456.31" r="1.25" fill="#533526"/>
<circle cx="474.65" cy="455.95" r="1.25" fill="#533526"/>
<circle cx="475.93" cy="455.58" r="1.25" fill="#533526"/>
<circle cx="477.2" cy="455.19" r="1.25" fill="#533526"/>
<circle cx="479.8" cy="454.38" r="1.25" fill="#533526"/>
<circle cx="481" cy="454.01" r="1.25" fill="#533526"/>
<circle cx="482.2" cy="453.64" r="1.25" fill="#533526"/>
<circle cx="483.4" cy="453.25" r="1.25" fill="#533526"/>
<circle cx="484.6" cy="452.87" r="1.25" fill="#533526"/>
<circle cx="485.8" cy="452.49" r="1.25" fill="#533526"/>
<circle cx="487" cy="452.02" r="1.25" fill="#533526"/>
<circle cx="491" cy="450.16" r="1.25" fill="#533526"/>
<circle cx="492" cy="449.69" r="1.25" fill="#533526"/>
<circle cx="493" cy="448.8" r="1.25" fill="#533526"/>
<circle cx="497" cy="445.59" r="1.25" fill="#533526"/>
<circle cx="498" cy="445" r="1.25" fill="#533526"/>
<circle cx="499" cy="444.9" r="1.25" fill="#533526"/>
<circle cx="502" cy="444.61" r="1.25" fill="#533526"/>
<circle cx="503.4" cy="444.25" r="1.25" fill="#533526"/>
<circle cx="504.8" cy="443.11" r="1.25" fill="#533526"/>
<circle cx="506.2" cy="441.46" r="1.25" fill="#533526"/>
<circle cx="507.6" cy="439.53" r="1.25" fill="#533526"/>
<circle cx="509" cy="438.09" r="1.25" fill="#533526"/>
<circle cx="512" cy="435.79" r="1.25" fill="#533526"/>
<circle cx="513.25" cy="434.84" r="1.25" fill="#533526"/>
<circle cx="514.5" cy="433.72" r="1.25" fill="#533526"/>
<circle cx="520" cy="426.58" r="1.25" fill="#533526"/>
<circle cx="521.23" cy="424.73" r="1.25" fill="#533526"/>
<circle cx="522.47" cy="422.63" r="1.25" fill="#533526"/>
<circle cx="523.7" cy="421.4" r="1.25" fill="#533526"/>
<circle cx="524.93" cy="420.17" r="1.25" fill="#533526"/>
<circle cx="526.17" cy="418.54" r="1.25" fill="#533526"/>
<circle cx="527.4" cy="416.53" r="1.25" fill="#533526"/>
<circle cx="528.63" cy="415.71" r="1.25" fill="#533526"/>
<circle cx="529.87" cy="414.65" r="1.25" fill="#533526"/>
<circle cx="531.1" cy="413.2" r="1.25" fill="#533526"/>
<rect x="300.1" y="375.6" width="90.3" height="15.9" rx="1" class="lg"/>
<line x1="302" y1="379.4" x2="313" y2="379.4" stroke="#7479ba" stroke-width="1.3"/>
<circle cx="307.6" cy="386.8" r="1.7" fill="#533526"/>
<text x="316.5" y="381.2" class="lt">All patients</text>
<text x="316.5" y="388.6" class="lt">Deceased patients &amp; Generated</text>
<line x1="40.3" y1="557.2" x2="40.3" y2="712.8" class="g"/>
<line x1="85.56" y1="557.2" x2="85.56" y2="712.8" class="g"/>
<line x1="130.82" y1="557.2" x2="130.82" y2="712.8" class="g"/>
<line x1="176.08" y1="557.2" x2="176.08" y2="712.8" class="g"/>
<line x1="221.34" y1="557.2" x2="221.34" y2="712.8" class="g"/>
<line x1="266.6" y1="557.2" x2="266.6" y2="712.8" class="g"/>
<line x1="28.5" y1="687.2" x2="278.5" y2="687.2" class="g"/>
<line x1="28.5" y1="659.8" x2="278.5" y2="659.8" class="g"/>
<line x1="28.5" y1="632.4" x2="278.5" y2="632.4" class="g"/>
<line x1="28.5" y1="605" x2="278.5" y2="605" class="g"/>
<line x1="28.5" y1="577.6" x2="278.5" y2="577.6" class="g"/>
<rect x="28.5" y="557.2" width="250" height="155.6" class="f"/>
<text x="40.3" y="719.6" class="tx">0</text>
<text x="85.56" y="719.6" class="tx">20</text>
<text x="130.82" y="719.6" class="tx">40</text>
<text x="176.08" y="719.6" class="tx">60</text>
<text x="221.34" y="719.6" class="tx">80</text>
<text x="266.6" y="719.6" class="tx">100</text>
<text x="26.3" y="689" class="ty">3</text>
<text x="26.3" y="661.6" class="ty">4</text>
<text x="26.3" y="634.2" class="ty">5</text>
<text x="26.3" y="606.8" class="ty">6</text>
<text x="26.3" y="579.4" class="ty">7</text>
<text x="153.5" y="725.9" class="xl">Patient #</text>
<text transform="translate(20.9,635) rotate(-90)" class="yl">CSR</text>
<polyline points="40.1,705.8 42.3,698.1 44.5,684 47.4,680.4 51,676 53.2,676 56.1,670.9 58.3,670.2 60.5,659.3 62.6,657.1 67.7,651.3 73.5,651.3 77.2,649.1 81.5,646.2 84.5,646.2 88.1,643.3 91.7,643 95.4,640.4 101.2,640.1 103.4,637.7 110,637.6 113.6,635.4 117.3,635.1 121.6,632.5 131.8,632.5 135.5,629.3 142,628.5 144.9,626.4 151.5,626.1 153.6,624.2 157.3,621.3 167.5,621 171.1,616.2 184.2,615.9 187.3,613.3 190.2,612.8 194.5,607.3 209.8,607.3 213.5,604.8 218.5,602.9 221.2,602.2 223.6,599.3 228,599 234.5,591.7 237.2,591 240.1,588.5 248.5,588.5 250.6,583.7 252.5,583 254.6,581.5 257.5,577.9 259.7,574.6 264.1,564.5 266.6,564.1" fill="none" stroke="#7479ba" stroke-width="0.95" stroke-linejoin="round"/>
<circle cx="42.3" cy="698.1" r="1.5" fill="#3b3129"/>
<circle cx="62.6" cy="657.1" r="1.5" fill="#3b3129"/>
<circle cx="103.4" cy="637.7" r="1.5" fill="#3b3129"/>
<circle cx="105.8" cy="637.7" r="1.5" fill="#3b3129"/>
<circle cx="113.6" cy="635.4" r="1.5" fill="#3b3129"/>
<circle cx="116" cy="635.2" r="1.5" fill="#3b3129"/>
<circle cx="123.8" cy="632.5" r="1.5" fill="#3b3129"/>
<circle cx="128.2" cy="632.5" r="1.5" fill="#3b3129"/>
<circle cx="153.6" cy="624.2" r="1.5" fill="#3b3129"/>
<circle cx="203.3" cy="607.3" r="1.5" fill="#3b3129"/>
<circle cx="221.2" cy="602.2" r="1.5" fill="#3b3129"/>
<circle cx="223.6" cy="599.3" r="1.5" fill="#3b3129"/>
<circle cx="257.6" cy="577.8" r="1.5" fill="#3b3129"/>
<rect x="30.9" y="559.5" width="59.5" height="16" rx="1" class="lg"/>
<line x1="32.8" y1="563.3" x2="43.8" y2="563.3" stroke="#7479ba" stroke-width="1.3"/>
<circle cx="38.4" cy="570.7" r="1.7" fill="#3b3129"/>
<text x="47.3" y="565.1" class="lt">All patients</text>
<text x="47.3" y="572.5" class="lt">Deceased patients</text>
<line x1="306.6" y1="557.4" x2="306.6" y2="712.9" class="g"/>
<line x1="339" y1="557.4" x2="339" y2="712.9" class="g"/>
<line x1="371.4" y1="557.4" x2="371.4" y2="712.9" class="g"/>
<line x1="403.8" y1="557.4" x2="403.8" y2="712.9" class="g"/>
<line x1="436.2" y1="557.4" x2="436.2" y2="712.9" class="g"/>
<line x1="468.6" y1="557.4" x2="468.6" y2="712.9" class="g"/>
<line x1="501" y1="557.4" x2="501" y2="712.9" class="g"/>
<line x1="533.4" y1="557.4" x2="533.4" y2="712.9" class="g"/>
<line x1="295.7" y1="687.2" x2="544.2" y2="687.2" class="g"/>
<line x1="295.7" y1="659.8" x2="544.2" y2="659.8" class="g"/>
<line x1="295.7" y1="632.4" x2="544.2" y2="632.4" class="g"/>
<line x1="295.7" y1="605" x2="544.2" y2="605" class="g"/>
<line x1="295.7" y1="577.6" x2="544.2" y2="577.6" class="g"/>
<rect x="295.7" y="557.4" width="248.5" height="155.5" class="f"/>
<text x="306.6" y="719.7" class="tx">0</text>
<text x="339" y="719.7" class="tx">25</text>
<text x="371.4" y="719.7" class="tx">50</text>
<text x="403.8" y="719.7" class="tx">75</text>
<text x="436.2" y="719.7" class="tx">100</text>
<text x="468.6" y="719.7" class="tx">125</text>
<text x="501" y="719.7" class="tx">150</text>
<text x="533.4" y="719.7" class="tx">175</text>
<text x="293.5" y="689" class="ty">3</text>
<text x="293.5" y="661.6" class="ty">4</text>
<text x="293.5" y="634.2" class="ty">5</text>
<text x="293.5" y="606.8" class="ty">6</text>
<text x="293.5" y="579.4" class="ty">7</text>
<text x="419.95" y="726" class="xl">Patient #</text>
<text transform="translate(287.2,635.15) rotate(-90)" class="yl">CSR</text>
<polyline points="306.6,705.8 307.8,697.8 309.5,697.5 311,684 313.2,679.3 316.1,678.2 320.5,670.2 323.4,657.1 326.3,652.7 329.9,651.3 335,646.2 339.4,643.6 343,642.5 345.9,640.4 349.5,639.2 353.2,637.7 357.5,636.3 364.8,635.3 370,634.4 377.3,633.3 386,632.2 393.3,632.2 397.6,631.5 403.5,629.7 408.5,629.3 412.2,627.1 413.6,626.4 420.9,626.4 426.7,624.2 431.8,624.2 436.2,621.3 440,620.9 444.4,619.5 450.2,616.5 454.5,616.3 460.4,615.8 463.3,614.4 467.6,611.5 471.3,610.4 474.9,608.1 480.7,607.5 485.1,607.8 486.5,605.6 490.9,603.5 493.8,602.3 498.2,600.5 501.1,599.1 506.2,597.3 508.4,594.7 511.3,589.6 515.6,588.2 518.9,587.6 520.5,584.7 524.4,581.1 527.6,577.8 529.3,576.7 532.5,564.2" fill="none" stroke="#7479ba" stroke-width="0.95" stroke-linejoin="round"/>
<g fill="#ffbfd2" opacity="0.16">
<circle cx="307.8" cy="697.8" r="4.5"/>
<circle cx="309.5" cy="697.5" r="4.5"/>
<circle cx="313.2" cy="679.3" r="4.5"/>
<circle cx="316.1" cy="678.2" r="4.5"/>
<circle cx="323.4" cy="657.1" r="4.5"/>
<circle cx="326.3" cy="652.7" r="4.5"/>
<circle cx="343.1" cy="642.43" r="4.5"/>
<circle cx="348.9" cy="639.4" r="4.5"/>
<circle cx="350.17" cy="638.93" r="4.5"/>
<circle cx="351.43" cy="638.42" r="4.5"/>
<circle cx="352.7" cy="637.9" r="4.5"/>
<circle cx="356.5" cy="636.63" r="4.5"/>
<circle cx="357.77" cy="636.26" r="4.5"/>
<circle cx="359.04" cy="636.09" r="4.5"/>
<circle cx="360.32" cy="635.91" r="4.5"/>
<circle cx="361.59" cy="635.74" r="4.5"/>
<circle cx="362.86" cy="635.57" r="4.5"/>
<circle cx="364.13" cy="635.39" r="4.5"/>
<circle cx="365.4" cy="635.2" r="4.5"/>
<circle cx="366.68" cy="634.98" r="4.5"/>
<circle cx="367.95" cy="634.76" r="4.5"/>
<circle cx="369.22" cy="634.53" r="4.5"/>
<circle cx="370.49" cy="634.33" r="4.5"/>
<circle cx="371.76" cy="634.13" r="4.5"/>
<circle cx="373.04" cy="633.94" r="4.5"/>
<circle cx="374.31" cy="633.75" r="4.5"/>
<circle cx="375.58" cy="633.56" r="4.5"/>
<circle cx="376.85" cy="633.37" r="4.5"/>
<circle cx="378.12" cy="633.2" r="4.5"/>
<circle cx="379.4" cy="633.03" r="4.5"/>
<circle cx="380.67" cy="632.87" r="4.5"/>
<circle cx="381.94" cy="632.71" r="4.5"/>
<circle cx="383.21" cy="632.55" r="4.5"/>
<circle cx="384.48" cy="632.39" r="4.5"/>
<circle cx="385.76" cy="632.23" r="4.5"/>
<circle cx="387.03" cy="632.2" r="4.5"/>
<circle cx="388.3" cy="632.2" r="4.5"/>
<circle cx="390.9" cy="632.2" r="4.5"/>
<circle cx="392.17" cy="632.2" r="4.5"/>
<circle cx="393.44" cy="632.18" r="4.5"/>
<circle cx="394.71" cy="631.97" r="4.5"/>
<circle cx="395.98" cy="631.76" r="4.5"/>
<circle cx="397.25" cy="631.56" r="4.5"/>
<circle cx="398.52" cy="631.22" r="4.5"/>
<circle cx="399.79" cy="630.83" r="4.5"/>
<circle cx="401.06" cy="630.44" r="4.5"/>
<circle cx="402.33" cy="630.06" r="4.5"/>
<circle cx="403.6" cy="629.69" r="4.5"/>
<circle cx="410" cy="628.41" r="4.5"/>
<circle cx="411.27" cy="627.65" r="4.5"/>
<circle cx="412.53" cy="626.93" r="4.5"/>
<circle cx="413.8" cy="626.4" r="4.5"/>
<circle cx="420.2" cy="626.4" r="4.5"/>
<circle cx="421.47" cy="626.18" r="4.5"/>
<circle cx="422.74" cy="625.7" r="4.5"/>
<circle cx="424.01" cy="625.22" r="4.5"/>
<circle cx="425.28" cy="624.74" r="4.5"/>
<circle cx="426.55" cy="624.26" r="4.5"/>
<circle cx="427.82" cy="624.2" r="4.5"/>
<circle cx="429.08" cy="624.2" r="4.5"/>
<circle cx="430.35" cy="624.2" r="4.5"/>
<circle cx="431.62" cy="624.2" r="4.5"/>
<circle cx="432.89" cy="623.48" r="4.5"/>
<circle cx="434.16" cy="622.64" r="4.5"/>
<circle cx="435.43" cy="621.81" r="4.5"/>
<circle cx="436.7" cy="621.25" r="4.5"/>
<circle cx="441.8" cy="620.33" r="4.5"/>
<circle cx="443.07" cy="619.92" r="4.5"/>
<circle cx="444.34" cy="619.52" r="4.5"/>
<circle cx="445.61" cy="618.87" r="4.5"/>
<circle cx="446.89" cy="618.21" r="4.5"/>
<circle cx="448.16" cy="617.56" r="4.5"/>
<circle cx="449.43" cy="616.9" r="4.5"/>
<circle cx="450.7" cy="616.48" r="4.5"/>
<circle cx="459.6" cy="615.87" r="4.5"/>
<circle cx="460.88" cy="615.57" r="4.5"/>
<circle cx="462.15" cy="614.96" r="4.5"/>
<circle cx="463.43" cy="614.32" r="4.5"/>
<circle cx="464.7" cy="613.46" r="4.5"/>
<circle cx="467.2" cy="611.77" r="4.5"/>
<circle cx="468.46" cy="611.25" r="4.5"/>
<circle cx="469.71" cy="610.87" r="4.5"/>
<circle cx="470.97" cy="610.5" r="4.5"/>
<circle cx="472.23" cy="609.81" r="4.5"/>
<circle cx="473.49" cy="609" r="4.5"/>
<circle cx="474.74" cy="608.2" r="4.5"/>
<circle cx="476" cy="607.99" r="4.5"/>
<circle cx="486.5" cy="605.6" r="4.5"/>
<circle cx="487.76" cy="605" r="4.5"/>
<circle cx="489.03" cy="604.39" r="4.5"/>
<circle cx="490.29" cy="603.79" r="4.5"/>
<circle cx="491.56" cy="603.23" r="4.5"/>
<circle cx="492.82" cy="602.7" r="4.5"/>
<circle cx="494.09" cy="602.18" r="4.5"/>
<circle cx="495.35" cy="601.66" r="4.5"/>
<circle cx="496.62" cy="601.15" r="4.5"/>
<circle cx="497.88" cy="600.63" r="4.5"/>
<circle cx="499.15" cy="600.04" r="4.5"/>
<circle cx="500.41" cy="599.43" r="4.5"/>
<circle cx="501.68" cy="598.9" r="4.5"/>
<circle cx="502.94" cy="598.45" r="4.5"/>
<circle cx="504.21" cy="598" r="4.5"/>
<circle cx="505.47" cy="597.56" r="4.5"/>
<circle cx="506.74" cy="596.67" r="4.5"/>
<circle cx="508" cy="595.17" r="4.5"/>
<circle cx="518.9" cy="587.6" r="4.5"/>
<circle cx="520.5" cy="584.7" r="4.5"/>
<circle cx="524.4" cy="581.1" r="4.5"/>
<circle cx="527.6" cy="577.8" r="4.5"/>
</g>
<circle cx="307.8" cy="697.8" r="1.25" fill="#533526"/>
<circle cx="309.5" cy="697.5" r="1.25" fill="#533526"/>
<circle cx="313.2" cy="679.3" r="1.25" fill="#533526"/>
<circle cx="316.1" cy="678.2" r="1.25" fill="#533526"/>
<circle cx="323.4" cy="657.1" r="1.25" fill="#533526"/>
<circle cx="326.3" cy="652.7" r="1.25" fill="#533526"/>
<circle cx="343.1" cy="642.43" r="1.25" fill="#533526"/>
<circle cx="348.9" cy="639.4" r="1.25" fill="#533526"/>
<circle cx="350.17" cy="638.93" r="1.25" fill="#533526"/>
<circle cx="351.43" cy="638.42" r="1.25" fill="#533526"/>
<circle cx="352.7" cy="637.9" r="1.25" fill="#533526"/>
<circle cx="356.5" cy="636.63" r="1.25" fill="#533526"/>
<circle cx="357.77" cy="636.26" r="1.25" fill="#533526"/>
<circle cx="359.04" cy="636.09" r="1.25" fill="#533526"/>
<circle cx="360.32" cy="635.91" r="1.25" fill="#533526"/>
<circle cx="361.59" cy="635.74" r="1.25" fill="#533526"/>
<circle cx="362.86" cy="635.57" r="1.25" fill="#533526"/>
<circle cx="364.13" cy="635.39" r="1.25" fill="#533526"/>
<circle cx="365.4" cy="635.2" r="1.25" fill="#533526"/>
<circle cx="366.68" cy="634.98" r="1.25" fill="#533526"/>
<circle cx="367.95" cy="634.76" r="1.25" fill="#533526"/>
<circle cx="369.22" cy="634.53" r="1.25" fill="#533526"/>
<circle cx="370.49" cy="634.33" r="1.25" fill="#533526"/>
<circle cx="371.76" cy="634.13" r="1.25" fill="#533526"/>
<circle cx="373.04" cy="633.94" r="1.25" fill="#533526"/>
<circle cx="374.31" cy="633.75" r="1.25" fill="#533526"/>
<circle cx="375.58" cy="633.56" r="1.25" fill="#533526"/>
<circle cx="376.85" cy="633.37" r="1.25" fill="#533526"/>
<circle cx="378.12" cy="633.2" r="1.25" fill="#533526"/>
<circle cx="379.4" cy="633.03" r="1.25" fill="#533526"/>
<circle cx="380.67" cy="632.87" r="1.25" fill="#533526"/>
<circle cx="381.94" cy="632.71" r="1.25" fill="#533526"/>
<circle cx="383.21" cy="632.55" r="1.25" fill="#533526"/>
<circle cx="384.48" cy="632.39" r="1.25" fill="#533526"/>
<circle cx="385.76" cy="632.23" r="1.25" fill="#533526"/>
<circle cx="387.03" cy="632.2" r="1.25" fill="#533526"/>
<circle cx="388.3" cy="632.2" r="1.25" fill="#533526"/>
<circle cx="390.9" cy="632.2" r="1.25" fill="#533526"/>
<circle cx="392.17" cy="632.2" r="1.25" fill="#533526"/>
<circle cx="393.44" cy="632.18" r="1.25" fill="#533526"/>
<circle cx="394.71" cy="631.97" r="1.25" fill="#533526"/>
<circle cx="395.98" cy="631.76" r="1.25" fill="#533526"/>
<circle cx="397.25" cy="631.56" r="1.25" fill="#533526"/>
<circle cx="398.52" cy="631.22" r="1.25" fill="#533526"/>
<circle cx="399.79" cy="630.83" r="1.25" fill="#533526"/>
<circle cx="401.06" cy="630.44" r="1.25" fill="#533526"/>
<circle cx="402.33" cy="630.06" r="1.25" fill="#533526"/>
<circle cx="403.6" cy="629.69" r="1.25" fill="#533526"/>
<circle cx="410" cy="628.41" r="1.25" fill="#533526"/>
<circle cx="411.27" cy="627.65" r="1.25" fill="#533526"/>
<circle cx="412.53" cy="626.93" r="1.25" fill="#533526"/>
<circle cx="413.8" cy="626.4" r="1.25" fill="#533526"/>
<circle cx="420.2" cy="626.4" r="1.25" fill="#533526"/>
<circle cx="421.47" cy="626.18" r="1.25" fill="#533526"/>
<circle cx="422.74" cy="625.7" r="1.25" fill="#533526"/>
<circle cx="424.01" cy="625.22" r="1.25" fill="#533526"/>
<circle cx="425.28" cy="624.74" r="1.25" fill="#533526"/>
<circle cx="426.55" cy="624.26" r="1.25" fill="#533526"/>
<circle cx="427.82" cy="624.2" r="1.25" fill="#533526"/>
<circle cx="429.08" cy="624.2" r="1.25" fill="#533526"/>
<circle cx="430.35" cy="624.2" r="1.25" fill="#533526"/>
<circle cx="431.62" cy="624.2" r="1.25" fill="#533526"/>
<circle cx="432.89" cy="623.48" r="1.25" fill="#533526"/>
<circle cx="434.16" cy="622.64" r="1.25" fill="#533526"/>
<circle cx="435.43" cy="621.81" r="1.25" fill="#533526"/>
<circle cx="436.7" cy="621.25" r="1.25" fill="#533526"/>
<circle cx="441.8" cy="620.33" r="1.25" fill="#533526"/>
<circle cx="443.07" cy="619.92" r="1.25" fill="#533526"/>
<circle cx="444.34" cy="619.52" r="1.25" fill="#533526"/>
<circle cx="445.61" cy="618.87" r="1.25" fill="#533526"/>
<circle cx="446.89" cy="618.21" r="1.25" fill="#533526"/>
<circle cx="448.16" cy="617.56" r="1.25" fill="#533526"/>
<circle cx="449.43" cy="616.9" r="1.25" fill="#533526"/>
<circle cx="450.7" cy="616.48" r="1.25" fill="#533526"/>
<circle cx="459.6" cy="615.87" r="1.25" fill="#533526"/>
<circle cx="460.88" cy="615.57" r="1.25" fill="#533526"/>
<circle cx="462.15" cy="614.96" r="1.25" fill="#533526"/>
<circle cx="463.43" cy="614.32" r="1.25" fill="#533526"/>
<circle cx="464.7" cy="613.46" r="1.25" fill="#533526"/>
<circle cx="467.2" cy="611.77" r="1.25" fill="#533526"/>
<circle cx="468.46" cy="611.25" r="1.25" fill="#533526"/>
<circle cx="469.71" cy="610.87" r="1.25" fill="#533526"/>
<circle cx="470.97" cy="610.5" r="1.25" fill="#533526"/>
<circle cx="472.23" cy="609.81" r="1.25" fill="#533526"/>
<circle cx="473.49" cy="609" r="1.25" fill="#533526"/>
<circle cx="474.74" cy="608.2" r="1.25" fill="#533526"/>
<circle cx="476" cy="607.99" r="1.25" fill="#533526"/>
<circle cx="486.5" cy="605.6" r="1.25" fill="#533526"/>
<circle cx="487.76" cy="605" r="1.25" fill="#533526"/>
<circle cx="489.03" cy="604.39" r="1.25" fill="#533526"/>
<circle cx="490.29" cy="603.79" r="1.25" fill="#533526"/>
<circle cx="491.56" cy="603.23" r="1.25" fill="#533526"/>
<circle cx="492.82" cy="602.7" r="1.25" fill="#533526"/>
<circle cx="494.09" cy="602.18" r="1.25" fill="#533526"/>
<circle cx="495.35" cy="601.66" r="1.25" fill="#533526"/>
<circle cx="496.62" cy="601.15" r="1.25" fill="#533526"/>
<circle cx="497.88" cy="600.63" r="1.25" fill="#533526"/>
<circle cx="499.15" cy="600.04" r="1.25" fill="#533526"/>
<circle cx="500.41" cy="599.43" r="1.25" fill="#533526"/>
<circle cx="501.68" cy="598.9" r="1.25" fill="#533526"/>
<circle cx="502.94" cy="598.45" r="1.25" fill="#533526"/>
<circle cx="504.21" cy="598" r="1.25" fill="#533526"/>
<circle cx="505.47" cy="597.56" r="1.25" fill="#533526"/>
<circle cx="506.74" cy="596.67" r="1.25" fill="#533526"/>
<circle cx="508" cy="595.17" r="1.25" fill="#533526"/>
<circle cx="518.9" cy="587.6" r="1.25" fill="#533526"/>
<circle cx="520.5" cy="584.7" r="1.25" fill="#533526"/>
<circle cx="524.4" cy="581.1" r="1.25" fill="#533526"/>
<circle cx="527.6" cy="577.8" r="1.25" fill="#533526"/>
<rect x="297.3" y="559.8" width="89.6" height="15.7" rx="1" class="lg"/>
<line x1="299.2" y1="563.6" x2="310.2" y2="563.6" stroke="#7479ba" stroke-width="1.3"/>
<circle cx="304.8" cy="571" r="1.7" fill="#533526"/>
<text x="313.7" y="565.4" class="lt">All patients</text>
<text x="313.7" y="572.8" class="lt">Deceased patients &amp; Generated</text>
</svg>
</body></html>
